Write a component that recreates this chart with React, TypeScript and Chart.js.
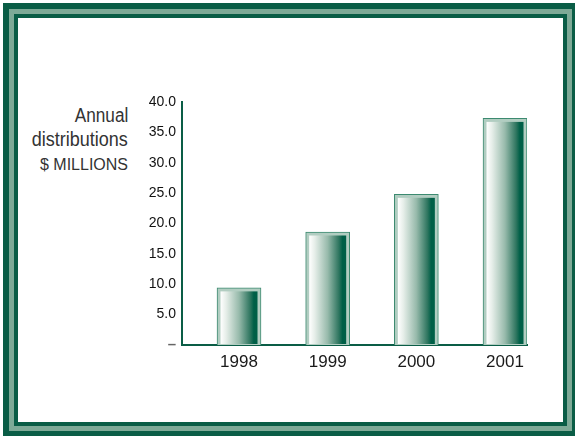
import React, { useEffect, useRef } from 'react';
import { Chart, registerables } from 'chart.js';

Chart.register(...registerables);

const years = ['1998', '1999', '2000', '2001'];
const distributions = [9.4, 18.6, 24.8, 37.3];
const yTickValues = [0, 5, 10, 15, 20, 25, 30, 35, 40];

const DARK = '#0a5d46';
const LIGHT = '#7eaa97';
const BAR_EDGE = '#3c8a70';
const BAR_BAND = '#b1cdc1';

const barDecor = {
  id: 'barDecor',
  afterDatasetsDraw(chart: any) {
    const ctx = chart.ctx as CanvasRenderingContext2D;
    const meta = chart.getDatasetMeta(0);
    meta.data.forEach((bar: any) => {
      const { x, y, base, width } = bar.getProps(['x', 'y', 'base', 'width'], true);
      const inset = 3.5;
      const l = x - width / 2 + inset;
      const r = x + width / 2 - inset;
      const t = y + inset;
      const g = ctx.createLinearGradient(l, 0, r, 0);
      g.addColorStop(0, '#ffffff');
      g.addColorStop(0.15, '#e6eee9');
      g.addColorStop(0.5, '#97baab');
      g.addColorStop(0.8, '#2f7660');
      g.addColorStop(0.9, '#005f47');
      g.addColorStop(1, '#005f47');
      ctx.save();
      ctx.fillStyle = g;
      ctx.fillRect(l, t, r - l, base - t - 1);
      ctx.restore();
    });
  },
};

export default function App() {
  const canvasRef = useRef<HTMLCanvasElement | null>(null);

  useEffect(() => {
    if (!canvasRef.current) return;
    Chart.defaults.font.family = "'Liberation Sans', Arial, sans-serif";
    const chart = new Chart(canvasRef.current, {
      type: 'bar',
      data: {
        datasets: [
          {
            data: distributions.map((v, i) => ({ x: i, y: v })),
            backgroundColor: BAR_BAND,
            borderColor: BAR_EDGE,
            borderWidth: 1,
            barThickness: 44,
          },
        ],
      },
      options: {
        responsive: false,
        animation: false,
        layout: { padding: { left: 132, right: 48, top: 102, bottom: 51 } },
        plugins: { legend: { display: false }, tooltip: { enabled: false } },
        scales: {
          x: {
            type: 'linear',
            offset: false,
            min: -0.643,
            max: 3.248,
            afterBuildTicks: (s: any) => {
              s.ticks = years.map((_, i) => ({ value: i }));
            },
            afterFit: (s: any) => {
              s.height = 40;
            },
            ticks: {
              callback: (_v: any, i: number) => years[i],
              font: { size: 17 },
              color: '#1a1a1a',
              padding: 7,
              autoSkip: false,
              maxRotation: 0,
            },
            grid: { display: false, drawTicks: false },
            border: { color: DARK, width: 2 },
          },
          y: {
            min: 0,
            max: 40,
            afterBuildTicks: (s: any) => {
              s.ticks = yTickValues.map((v) => ({ value: v }));
            },
            afterFit: (s: any) => {
              s.width = 50;
            },
            ticks: {
              callback: (v: any) => (v === 0 ? '–' : Number(v).toFixed(1)),
              font: (c: any) => (c.tick && c.tick.value === 0 ? { size: 15, weight: 'bold' } : { size: 14 }),
              color: (c: any) => (c.tick && c.tick.value === 0 ? '#666' : '#111'),
              padding: 6,
            },
            grid: { display: false, drawTicks: false },
            border: { color: DARK, width: 2 },
          },
        },
      },
      plugins: [barDecor],
    } as any);
    return () => chart.destroy();
  }, []);

  const sans = "'Liberation Sans', Arial, sans-serif";
  const labelStyle = (top: number, size: number, sx: number): React.CSSProperties => ({
    position: 'absolute',
    right: 447,
    top,
    font: `${size}px/${size}px ${sans}`,
    color: '#333',
    textAlign: 'right',
    whiteSpace: 'nowrap',
    transform: `scaleX(${sx})`,
    transformOrigin: 'right center',
  });

  return (
    <div style={{ position: 'absolute', left: 0, top: 0, width: 575, height: 436, overflow: 'hidden', background: '#fff' }}>
      <div
        style={{
          position: 'absolute',
          left: 3,
          top: 3,
          width: 575,
          height: 434,
          boxSizing: 'border-box',
          background: DARK,
          padding: 6,
        }}
      >
        <div style={{ width: '100%', height: '100%', boxSizing: 'border-box', background: LIGHT, padding: 5 }}>
          <div style={{ width: '100%', height: '100%', boxSizing: 'border-box', background: DARK, padding: 4 }}>
            <div style={{ width: '100%', height: '100%', background: '#fff' }} />
          </div>
        </div>
      </div>
      <div style={labelStyle(105, 20, 0.86)}>Annual</div>
      <div style={labelStyle(129, 20, 0.9)}>distributions</div>
      <div style={labelStyle(156.5, 16, 1)}>$ MILLIONS</div>
      <canvas ref={canvasRef} width={575} height={436} style={{ position: 'absolute', left: 0, top: 0 }} />
    </div>
  );
}
